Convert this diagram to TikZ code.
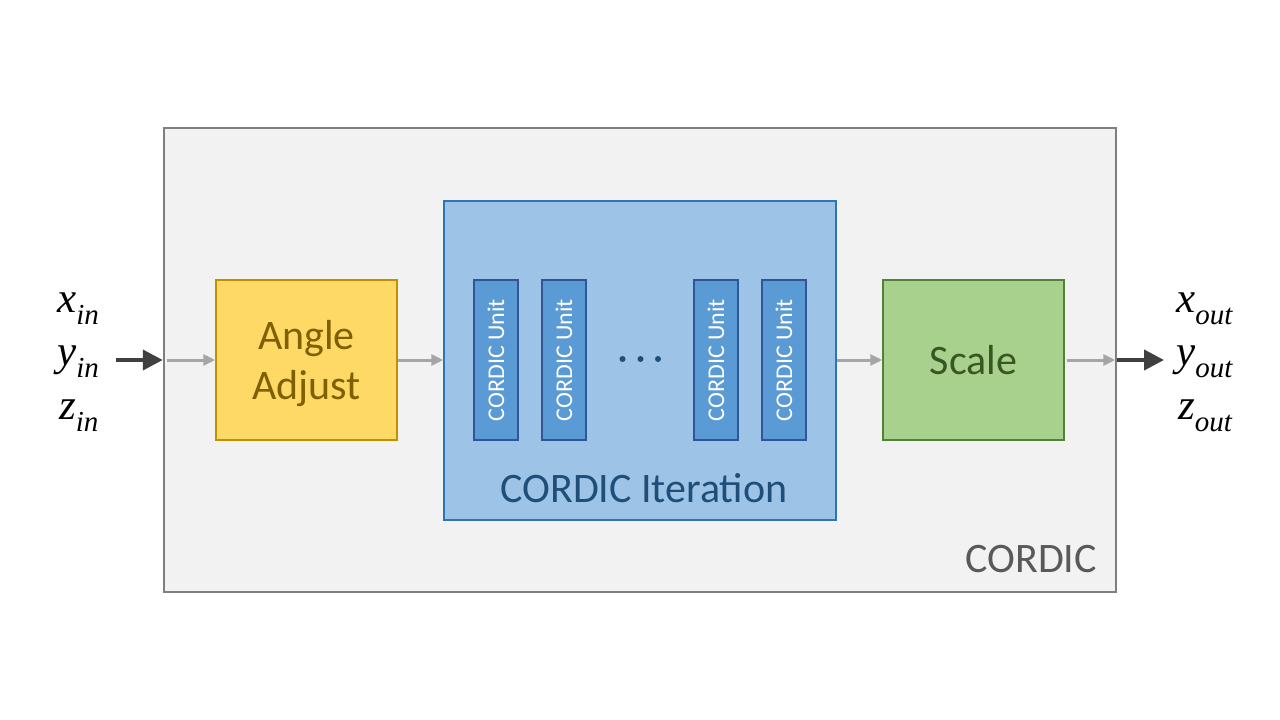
\documentclass[tikz,border=0pt]{standalone}
\usepackage{fontspec}
\setmainfont{Carlito}
\newfontfamily\mathserif{Liberation Serif}
\usetikzlibrary{arrows.meta}
\definecolor{outerfill}{HTML}{F2F2F2}
\definecolor{outerdraw}{HTML}{7F7F7F}
\definecolor{outertext}{HTML}{595959}
\definecolor{aafill}{HTML}{FFD966}
\definecolor{aadraw}{HTML}{BF9000}
\definecolor{aatext}{HTML}{7F6000}
\definecolor{itfill}{HTML}{9DC3E6}
\definecolor{itdraw}{HTML}{2E75B6}
\definecolor{ittext}{HTML}{1F4E79}
\definecolor{unfill}{HTML}{5B9BD5}
\definecolor{undraw}{HTML}{2F5597}
\definecolor{scfill}{HTML}{A9D18E}
\definecolor{scdraw}{HTML}{538135}
\definecolor{sctext}{HTML}{385723}
\definecolor{grayarrow}{HTML}{A6A6A6}
\definecolor{darkarrow}{HTML}{404040}
\tikzset{
  blockbox/.style={rectangle, inner sep=0pt, align=center, font=\fontsize{42}{50}\selectfont},
  unitbox/.style={rectangle, inner sep=0pt, draw=undraw, fill=unfill, line width=2pt,
    minimum width=44pt, minimum height=160pt},
  unittext/.style={rotate=90, text=white, font=\fontsize{24}{24}\selectfont, inner sep=0pt},
  dotmark/.style={circle, fill=ittext, minimum size=6pt, inner sep=0pt},
  grayconn/.style={draw=grayarrow, line width=3pt, -{Triangle[length=12pt,width=11pt]}},
  darkconn/.style={draw=darkarrow, line width=4pt, -{Triangle[length=20pt,width=20pt]}},
  iolabel/.style={anchor=base west, inner sep=0pt, font=\mathserif\itshape\fontsize{43}{43}\selectfont},
}
\newcommand{\subtxt}[1]{\raisebox{-0.3em}{\fontsize{29}{29}\selectfont #1}}
\begin{document}
\begin{tikzpicture}[x=1pt,y=-1pt]
\useasboundingbox (0,0) rectangle (1280,720);
% outer box
\node[rectangle, draw=outerdraw, fill=outerfill, line width=2.5pt, minimum width=952pt, minimum height=464pt, inner sep=0pt] (outer) at (640,360) {};
\node[anchor=base east, inner sep=0pt, text=outertext, font=\fontsize{42}{42}\selectfont] (outerlabel) at (1097,572) {CORDIC};
% angle adjust
\node[blockbox, draw=aadraw, fill=aafill, line width=1.5pt, minimum width=181pt, minimum height=160pt] (aa) at (306.5,360) {};
\node[blockbox, text=aatext] (aalabel) at (306.5,364) {Angle\\Adjust};
% iteration
\node[blockbox, draw=itdraw, fill=itfill, line width=1.5pt, minimum width=392pt, minimum height=319pt] (iter) at (640,360.5) {};
\node[anchor=base, inner sep=0pt, text=ittext, font=\fontsize{42}{42}\selectfont] (itlabel) at (644,502) {CORDIC Iteration};
% units
\node[unitbox] (u1) at (496,360) {};
\node[unittext] (u1t) at (u1.center) {CORDIC Unit};
\node[unitbox] (u2) at (564,360) {};
\node[unittext] (u2t) at (u2.center) {CORDIC Unit};
\node[unitbox] (u3) at (716,360) {};
\node[unittext] (u3t) at (u3.center) {CORDIC Unit};
\node[unitbox] (u4) at (784,360) {};
\node[unittext] (u4t) at (u4.center) {CORDIC Unit};
\node[dotmark] (d1) at (622.5,359) {};
\node[dotmark] (d2) at (640.5,359) {};
\node[dotmark] (d3) at (658,359) {};
% scale
\node[blockbox, draw=scdraw, fill=scfill, line width=1.5pt, minimum width=181pt, minimum height=160pt, text=sctext] (sc) at (973.5,360) {Scale};
% io labels
\node[iolabel] (xin) at (57,312) {x\subtxt{in}};
\node[iolabel] (yin) at (57,365) {y\subtxt{in}};
\node[iolabel] (zin) at (59,419) {z\subtxt{in}};
\node[iolabel] (xout) at (1176,312) {x\subtxt{out}};
\node[iolabel] (yout) at (1176,365) {y\subtxt{out}};
\node[iolabel] (zout) at (1178,419) {z\subtxt{out}};
\coordinate (instart) at (116,360);
\coordinate (outend) at (1164,360);
% connectors
\draw[darkconn] (instart) -- (outer.west);
\draw[darkconn] (outer.east) -- (outend);
\draw[grayconn, shorten <=4pt] (outer.west) -- (aa.west);
\draw[grayconn] (aa.east) -- (aa.east -| iter.west);
\draw[grayconn] (iter.east |- sc.west) -- (sc.west);
\draw[grayconn, shorten <=2pt, shorten >=2pt] (sc.east) -- (outer.east);
\end{tikzpicture}
\end{document}
